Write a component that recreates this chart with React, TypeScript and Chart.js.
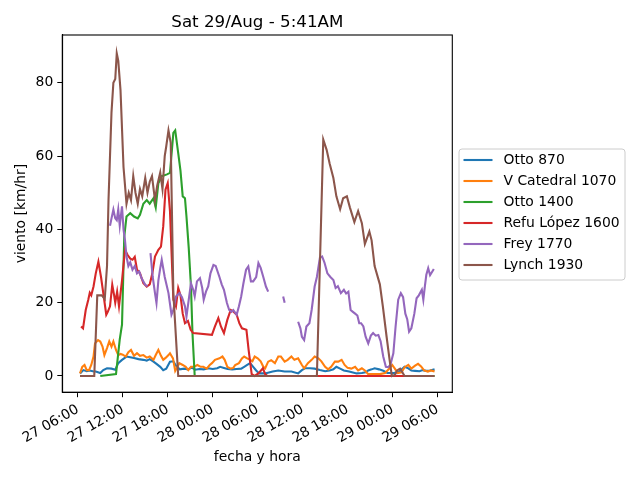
import React, { useRef, useEffect } from "react";
import Chart from "chart.js/auto";

// hours counted from 27/Aug 00:00, wind in km/hr (null = no reading)
type Pt = [number, number | null];

const FONT = "'DejaVu Sans', sans-serif";
const chartTitle = "Sat 29/Aug - 5:41AM";
const seriesNames = ["Otto 870", "V Catedral 1070", "Otto 1400", "Refu López 1600", "Frey 1770", "Lynch 1930"];
const seriesColors = ["#1f77b4", "#ff7f0e", "#2ca02c", "#d62728", "#9467bd", "#8c564b"];
const xTickHours = [6, 12, 18, 24, 30, 36, 42, 48, 54];
const yTickValues = [0, 20, 40, 60, 80];

const otto870: Pt[] = [
  [6.3, 0.7], [6.75, 1.6], [7.2, 1.3], [7.6, 1.5], [8.0, 1.3], [8.4, 1.2], [9.0, 0.8], [9.4, 1.6], [9.9, 2.1], [10.5, 2.0],
  [11.0, 1.7], [11.4, 3.5], [11.9, 4.4], [12.5, 5.3], [13.0, 5.1], [13.5, 4.9], [14.1, 4.6], [14.75, 4.4], [15.2, 4.2], [15.6, 4.6],
  [16.1, 3.9], [16.5, 3.3], [17.0, 2.5], [17.4, 1.6], [17.8, 2.0], [18.3, 3.9], [18.75, 4.0], [19.1, 2.8], [19.6, 1.8], [20.2, 2.0],
  [20.7, 1.8], [21.2, 2.3], [21.7, 1.7], [22.2, 1.9], [22.8, 1.8], [23.4, 2.1], [24.0, 1.9], [24.6, 2.1], [25.0, 2.5], [25.5, 2.2],
  [26.0, 1.9], [26.6, 1.8], [27.2, 1.9], [27.8, 2.0], [28.2, 2.5], [28.6, 3.0], [29.0, 3.5], [29.4, 2.5], [29.8, 1.5], [30.2, 0.7],
  [31.0, 0.7], [32.0, 1.2], [32.75, 1.5], [33.6, 1.2], [34.5, 1.2], [35.4, 0.7], [35.9, 1.6], [36.3, 2.1], [37.0, 2.1], [37.6, 2.0],
  [38.3, 1.6], [39.0, 1.3], [39.6, 1.5], [40.1, 1.8], [40.5, 2.5], [41.0, 2.0], [41.5, 1.5], [42.2, 1.2], [43.2, 0.7], [43.9, 0.8],
  [44.4, 1.0], [44.75, 1.5], [45.2, 1.8], [45.6, 2.1], [46.2, 1.8], [46.75, 1.4], [47.3, 0.8], [48.2, 0.8], [48.9, 1.2], [49.6, 2.5],
  [50.0, 2.2], [50.5, 1.5], [51.0, 1.4], [51.6, 1.3], [52.0, 1.6], [52.5, 1.4], [53.0, 1.5], [53.6, 1.8],
];

const vCatedral1070: Pt[] = [
  [6.3, 0.7], [6.6, 2.5], [6.9, 3.0], [7.2, 1.6], [7.5, 1.6], [7.8, 3.0], [8.1, 5.3], [8.3, 8.9], [8.7, 9.8], [9.0, 9.4],
  [9.3, 8.0], [9.55, 5.7], [9.9, 7.6], [10.2, 9.4], [10.5, 8.0], [10.75, 9.4], [11.1, 7.1], [11.4, 5.7], [11.7, 6.0], [12.0, 5.8],
  [12.4, 5.3], [12.75, 6.5], [13.1, 7.1], [13.5, 5.5], [13.9, 6.2], [14.3, 5.5], [14.75, 5.7], [15.2, 5.0], [15.6, 5.3], [16.1, 4.4],
  [16.4, 5.7], [16.75, 7.1], [17.1, 5.5], [17.4, 4.4], [17.75, 5.0], [18.1, 5.7], [18.3, 6.2], [18.7, 4.8], [19.0, 1.4], [19.3, 2.5],
  [19.55, 3.5], [20.0, 3.0], [20.4, 2.5], [20.75, 1.6], [21.1, 2.5], [21.5, 2.5], [21.95, 3.0], [22.4, 2.5], [22.75, 2.5], [23.2, 2.0],
  [23.6, 3.0], [23.9, 3.5], [24.3, 4.4], [24.9, 4.8], [25.3, 5.3], [25.6, 4.4], [25.95, 2.5], [26.4, 2.0], [26.75, 2.2], [27.0, 3.0],
  [27.5, 3.5], [27.9, 4.8], [28.2, 5.3], [28.6, 4.8], [29.0, 4.4], [29.3, 4.0], [29.6, 5.3], [30.0, 4.8], [30.4, 4.0], [30.75, 2.5],
  [31.0, 2.1], [31.4, 3.9], [31.8, 4.3], [32.3, 3.5], [32.75, 5.3], [33.1, 5.3], [33.6, 3.9], [34.0, 4.4], [34.5, 5.3], [34.9, 4.4],
  [35.4, 4.8], [35.9, 3.0], [36.2, 2.1], [36.7, 3.5], [37.2, 4.4], [37.6, 5.3], [38.1, 4.8], [38.5, 4.0], [39.0, 2.5], [39.4, 1.8],
  [39.8, 2.5], [40.3, 3.9], [40.75, 3.9], [41.2, 4.4], [41.6, 3.0], [42.0, 2.2], [42.5, 2.0], [43.0, 2.5], [43.4, 1.5], [43.9, 2.1],
  [44.3, 1.5], [44.75, 0.5], [45.5, 0.5], [46.3, 0.5], [47.0, 0.8], [47.6, 2.1], [47.95, 3.0], [48.3, 2.0], [48.7, 0.8], [49.2, 1.0],
  [49.6, 2.4], [50.1, 3.0], [50.5, 2.0], [51.0, 2.8], [51.4, 3.3], [51.8, 2.6], [52.2, 1.5], [52.7, 1.2], [53.1, 1.5], [53.6, 1.2],
];

const otto1400: Pt[] = [
  [9.0, 0], [11.1, 0.5], [11.6, 10], [11.9, 14], [12.2, 38], [12.5, 43.5], [13.0, 44.4], [13.5, 43.5], [14.0, 43], [14.3, 44],
  [14.75, 47], [15.2, 48], [15.6, 47], [16.1, 48.5], [16.4, 46], [16.75, 52.6], [17.2, 54.5], [17.9, 55], [18.3, 55.4], [18.75, 66.3],
  [19.0, 67], [19.4, 60.8], [19.7, 56], [20.0, 49], [20.3, 48.5], [20.5, 43.5], [20.8, 35], [21.1, 24.4], [21.3, 11.7], [21.6, 0],
  [53.6, 0],
];

const refuLopez1600: Pt[] = [
  [6.44, 13.5], [6.7, 13], [7.06, 18], [7.4, 20.8], [7.6, 22.7], [7.8, 22], [8.1, 24.4], [8.4, 28], [8.75, 31.2], [9.1, 27],
  [9.4, 22.6], [9.8, 16.7], [10.0, 17.5], [10.3, 19], [10.6, 24.9], [10.85, 22], [11.0, 20], [11.25, 23], [11.5, 19], [11.9, 26],
  [12.3, 34.4], [12.65, 33], [13.0, 32], [13.3, 31.7], [13.6, 32.5], [13.9, 29], [14.3, 28], [14.75, 25.3], [15.2, 24.4], [15.6, 25],
  [15.95, 28], [16.3, 32.6], [16.75, 34.4], [17.1, 35.3], [17.4, 40.8], [17.7, 50.8], [18.0, 52.6], [18.3, 45], [18.75, 20.8], [19.1, 19],
  [19.4, 24], [19.7, 22], [20.0, 17], [20.3, 14.4], [20.7, 15], [21.06, 12.6], [21.4, 11.7], [23.9, 11.2], [24.3, 13.5], [24.75, 15.8],
  [25.1, 13.5], [25.5, 11.7], [25.95, 15.3], [26.4, 18], [26.75, 17.6], [27.2, 16.7], [27.55, 14.4], [27.9, 13], [28.5, 12.6], [28.8, 7],
  [29.2, 0.5], [29.6, 0], [30.1, 0.7], [30.7, 2.1], [31.0, 0.5], [31.3, 0], [49.8, 0],
];

const frey1770: Pt[] = [
  [10.3, 41], [10.5, 43], [10.75, 45.4], [11.0, 43], [11.2, 42.5], [11.4, 45.4], [11.6, 41], [11.9, 46.3], [12.1, 40], [12.3, 37],
  [12.5, 32.6], [12.75, 30], [13.0, 31], [13.3, 29], [13.6, 30], [13.9, 28], [14.2, 28.5], [14.5, 26.7], [15.0, 24.9], [15.3, 24.4],
  [15.5, null],
  [15.7, 33.5], [16.0, 27], [16.3, 22.6], [16.5, 19.9], [16.75, 26], [17.0, 29.4], [17.2, 31.7], [17.6, 27], [18.1, 22.6], [18.5, 16.7],
  [18.75, 18], [19.1, 21.7], [19.55, 22.6], [19.9, 21.5], [20.3, 19], [20.5, 16.2], [20.75, 20], [21.1, 25.3], [21.4, 23.5], [21.6, 21.7],
  [21.9, 25.8], [22.3, 26.7], [22.6, 24], [22.8, 20.8], [23.1, 23], [23.4, 24.4], [23.7, 28], [24.1, 30.3], [24.4, 30], [24.9, 27],
  [25.2, 25], [25.5, 23.5], [25.9, 19.9], [26.2, 18], [26.5, 17.5], [26.75, 18], [27.2, 16.7], [27.5, 19], [27.8, 21.7], [28.1, 25.3],
  [28.45, 29], [28.75, 29.9], [29.1, 25.8], [29.4, 25.8], [29.8, 27], [30.1, 30.8], [30.4, 29.5], [30.75, 27], [31.1, 24.4], [31.4, 23],
  [31.6, null],
  [33.4, 21.7], [33.6, 20],
  [34.0, null],
  [35.4, 14.8], [35.7, 13], [35.9, 10.7], [36.2, 9.8], [36.5, 13.5], [36.9, 14.4], [37.2, 18], [37.6, 24.4], [37.9, 27], [38.3, 32.2],
  [38.6, 32.6], [38.9, 31], [39.3, 28], [39.7, 27], [40.1, 26.2], [40.4, 24], [40.7, 24.5], [41.1, 22.6], [41.5, 23.5], [41.8, 22.5],
  [42.1, 23], [42.4, 18], [42.7, 17.5], [43.0, 17], [43.3, 16.5], [43.55, 14.4], [43.8, 14.4], [44.1, 13.5], [44.4, 10.7], [44.75, 8.9],
  [45.1, 11], [45.4, 11.7], [45.75, 11], [46.1, 11.2], [46.4, 9.5], [46.75, 5.3], [47.1, 2.5], [47.4, 2.4], [47.7, 3], [48.1, 6.2],
  [48.4, 13.5], [48.75, 20.8], [49.1, 22.6], [49.4, 21.5], [49.7, 17], [49.95, 15.5], [50.2, 12.1], [50.5, 13], [50.9, 17], [51.2, 21.2],
  [51.5, 22], [51.9, 23.5], [52.1, 20.8], [52.3, 24.4], [52.5, 27.6], [52.75, 29.4], [53.0, 27.5], [53.3, 28.5], [53.5, 29.2],
];

const lynch1930: Pt[] = [
  [6.3, 0], [8.2, 0], [8.6, 22], [9.2, 22], [9.6, 21], [9.9, 30], [10.1, 48], [10.5, 72], [10.75, 80], [11.0, 81],
  [11.2, 88], [11.4, 86], [11.7, 78], [12.1, 57], [12.5, 47], [12.8, 50], [13.1, 48], [13.4, 54.5], [13.7, 50], [14.0, 47],
  [14.3, 51], [14.6, 49], [15.0, 54], [15.3, 50], [15.6, 53], [15.9, 54.5], [16.3, 48], [16.6, 52], [17.0, 55.5], [17.3, 51],
  [17.6, 60], [17.8, 62.6], [18.1, 67], [18.4, 63.6], [18.75, 22.6], [19.4, 0], [37.9, 0], [38.75, 64.5], [39.2, 61.7], [39.6, 58],
  [40.1, 54], [40.5, 49], [41.0, 45.5], [41.4, 48.5], [41.9, 49], [42.3, 46], [42.9, 42], [43.4, 45], [43.9, 41.7], [44.3, 36],
  [44.9, 39.4], [45.2, 37], [45.6, 30], [46.3, 25], [46.7, 19], [47.2, 10.7], [47.6, 4.4], [47.9, 0], [48.3, 0.3], [48.6, 1.5],
  [49.0, 2], [49.3, 1], [49.6, 0], [53.6, 0],
];

const allSeries = [otto870, vCatedral1070, otto1400, refuLopez1600, frey1770, lynch1930];

const hourLabel = (h: number) => {
  const day = 27 + Math.floor(h / 24);
  const hr = String(h % 24).padStart(2, "0");
  return `${day} ${hr}:00`;
};

// frame, title and a matplotlib-like legend beside the axes
const decorPlugin = {
  id: "decor",
  afterDraw(chart: any) {
    const { ctx, chartArea: a } = chart;
    ctx.save();
    ctx.strokeStyle = "#000";
    ctx.lineWidth = 1.1;
    ctx.strokeRect(a.left, a.top, a.right - a.left, a.bottom - a.top);

    ctx.fillStyle = "#000";
    ctx.font = `16.7px ${FONT}`;
    ctx.textAlign = "center";
    ctx.textBaseline = "alphabetic";
    ctx.fillText(chartTitle, (a.left + a.right) / 2, 27);

    const bx = 459, by = 149, bw = 166, bh = 131, r = 3;
    ctx.beginPath();
    ctx.moveTo(bx + r, by);
    ctx.arcTo(bx + bw, by, bx + bw, by + bh, r);
    ctx.arcTo(bx + bw, by + bh, bx, by + bh, r);
    ctx.arcTo(bx, by + bh, bx, by, r);
    ctx.arcTo(bx, by, bx + bw, by, r);
    ctx.closePath();
    ctx.fillStyle = "rgba(255,255,255,0.8)";
    ctx.fill();
    ctx.strokeStyle = "#cccccc";
    ctx.lineWidth = 1;
    ctx.stroke();

    ctx.font = `13.9px ${FONT}`;
    ctx.textAlign = "left";
    ctx.textBaseline = "middle";
    chart.data.datasets.forEach((ds: any, i: number) => {
      const y = 160 + i * 21;
      ctx.strokeStyle = ds.borderColor;
      ctx.lineWidth = 2.1;
      ctx.beginPath();
      ctx.moveTo(463.5, y);
      ctx.lineTo(492.5, y);
      ctx.stroke();
      ctx.fillStyle = "#000";
      ctx.fillText(ds.label, 503.5, y);
    });
    ctx.restore();
  },
};

const WindChart: React.FC = () => {
  const chartRef = useRef<HTMLCanvasElement | null>(null);
  const chartInstance = useRef<Chart | null>(null);

  useEffect(() => {
    if (chartInstance.current) {
      chartInstance.current.destroy();
    }
    if (!chartRef.current) return;
    const ctx = chartRef.current.getContext("2d");
    if (!ctx) return;

    const tickFont = { family: FONT, size: 13.9 };

    chartInstance.current = new Chart(ctx, {
      type: "line",
      data: {
        datasets: allSeries.map((s, i) => ({
          label: seriesNames[i],
          data: s.map(([x, y]) => ({ x, y })),
          borderColor: seriesColors[i],
          backgroundColor: seriesColors[i],
          borderWidth: 2.1,
          pointRadius: 0,
          fill: false,
          tension: 0,
          spanGaps: false,
          order: allSeries.length - i,
        })),
      },
      options: {
        responsive: false,
        animation: false,
        layout: { padding: { top: 35, right: 187.7, left: 0, bottom: 0 } },
        plugins: {
          legend: { display: false },
          tooltip: { enabled: false },
        },
        scales: {
          x: {
            type: "linear",
            min: 3.935,
            max: 55.965,
            afterFit: (scale: any) => {
              scale.height = 87.8;
            },
            afterBuildTicks: (scale: any) => {
              scale.ticks = xTickHours.map((v) => ({ value: v }));
            },
            ticks: {
              callback: (v: any) => hourLabel(Number(v)),
              minRotation: 30,
              maxRotation: 30,
              autoSkip: false,
              font: tickFont,
              color: "#000",
              padding: 4,
            },
            grid: { drawOnChartArea: false, tickLength: 5, color: "#000", tickColor: "#000" },
            border: { color: "#000", width: 1.1 },
            title: {
              display: true,
              text: "fecha y hora",
              font: tickFont,
              color: "#000",
              padding: { top: 0, bottom: 14.4 },
            },
          },
          y: {
            type: "linear",
            min: -4.43,
            max: 93.03,
            afterFit: (scale: any) => {
              scale.width = 62.3;
            },
            afterBuildTicks: (scale: any) => {
              scale.ticks = yTickValues.map((v) => ({ value: v }));
            },
            ticks: {
              callback: (v: any) => String(v),
              font: tickFont,
              color: "#000",
              padding: 4,
            },
            grid: { drawOnChartArea: false, tickLength: 5, color: "#000", tickColor: "#000" },
            border: { color: "#000", width: 1.1 },
            title: {
              display: true,
              text: "viento [km/hr]",
              font: tickFont,
              color: "#000",
              padding: { top: 13.4, bottom: 0 },
            },
          },
        },
      },
      plugins: [decorPlugin],
    });

    return () => {
      if (chartInstance.current) {
        chartInstance.current.destroy();
        chartInstance.current = null;
      }
    };
  }, []);

  return (
    <div style={{ position: "fixed", left: 0, top: 0, width: 640, height: 480, background: "#fff" }}>
      <canvas ref={chartRef} width="640" height="480"></canvas>
    </div>
  );
};

export default function App() {
  return <WindChart />;
}
